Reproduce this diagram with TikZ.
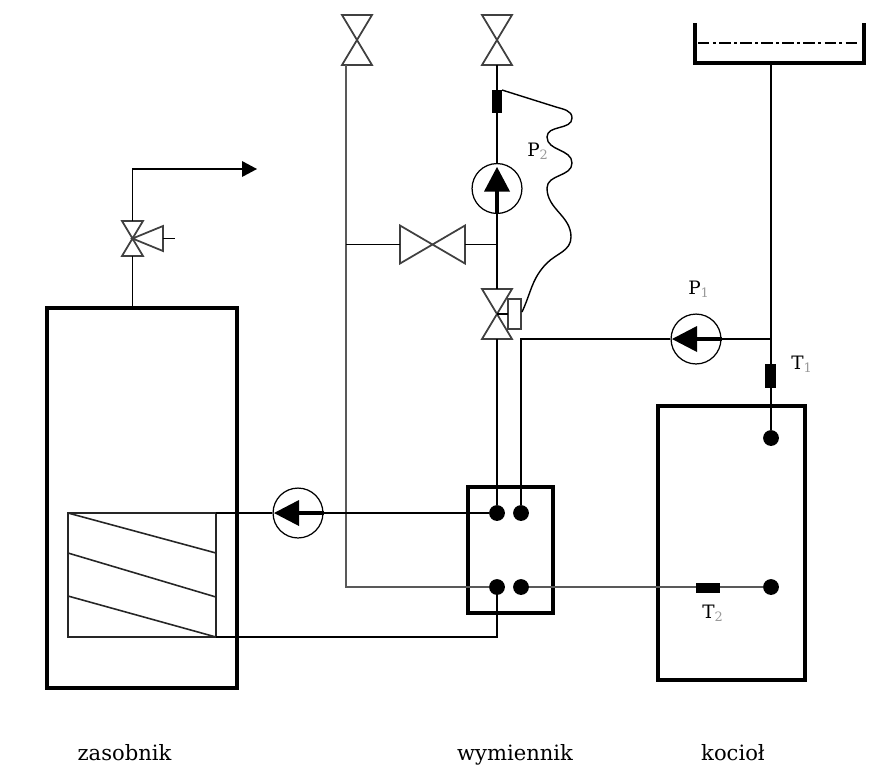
\documentclass[tikz,border=0pt]{standalone}
\usepackage{fontspec}
\setmainfont{DejaVu Serif}
\tikzset{
	pipe/.style={line width=1.1pt},
	thinpipe/.style={line width=0.8pt,black!65},
	coilline/.style={line width=0.9pt,black!85},
	valveline/.style={line width=1pt,black!75,line join=miter},
	wall/.style={line width=2.6pt},
	valvebox/.style={inner sep=0pt,outer sep=0pt,minimum width=#1},
	port/.style={circle,fill=black,inner sep=0pt,minimum size=9pt},
	pumpbody/.style={circle,draw,line width=0.7pt,inner sep=0pt,minimum size=28.4pt},
	sensor/.style={fill=black,inner sep=0pt,outer sep=0pt},
	tag/.style={font=\fontsize{10.5pt}{12pt}\selectfont},
	caption/.style={font=\fontsize{12pt}{14pt}\selectfont,anchor=base}
}
\newcommand{\vvalve}[5]{
	\node[valvebox=#4*0.02cm,minimum height=#5*0.02cm] (#1) at (#2,#3) {};
	\draw [valveline] (#1.north west)-- (#1.north east)-- (#1.south west)-- (#1.south east)-- cycle;
}
\begin{document}
\begin{tikzpicture}[x=0.02cm,y=-0.02cm,line cap=butt,line join=miter]
	\useasboundingbox (0,0) rectangle (884,769);
	% zasobnik
	\node[draw,wall,inner sep=0pt,outer sep=0pt,minimum width=190*0.02cm,minimum height=380*0.02cm] (store) at (142,498) {};
	\node[draw,coilline,inner sep=0pt,outer sep=0pt,minimum width=148*0.02cm,minimum height=124*0.02cm] (coil) at (142,575) {};
	\draw [coilline] (coil.north west)-- (coil.east |- 0,553);
	\draw [coilline] (coil.west |- 0,553)-- (coil.east |- 0,597);
	\draw [coilline] (coil.west |- 0,596)-- (coil.south east);
	% zawor bezpieczenstwa
	\vvalve{safety}{132.5}{238.5}{21}{35}
	\coordinate (safetyR) at (163,238.5);
	\coordinate (outlet) at (257,169);
	\draw [pipe] (store.north -| safety)-- (safety.south);
	\draw [pipe] (safety.north)-- (132.5,169)-- (242,169);
	\fill (242,161)-- (outlet)-- (242,177)-- cycle;
	\draw [valveline] (safety.center)-- (163,226)-- (163,251)-- cycle;
	\draw [pipe] (safetyR)-- (175,238.5);
	% wymiennik
	\node[draw,wall,inner sep=0pt,outer sep=0pt,minimum width=85*0.02cm,minimum height=126*0.02cm] (hex) at (510.5,550) {};
	\node[port] (hexA) at (497,513) {};
	\node[port] (hexB) at (521,513) {};
	\node[port] (hexC) at (497,587) {};
	\node[port] (hexD) at (521,587) {};
	% kociol
	\node[draw,wall,inner sep=0pt,outer sep=0pt,minimum width=147*0.02cm,minimum height=274*0.02cm] (boiler) at (731.5,543) {};
	\node[port] (boilerA) at (771,438) {};
	\node[port] (boilerB) at (771,587) {};
	% naczynie
	\coordinate (tankL) at (695,23);
	\coordinate (tankR) at (864,23);
	\coordinate (tankB) at (771,63);
	\draw [wall] (tankL)-- (695,63)-- (864,63)-- (tankR);
	\draw [line width=0.7pt,dash pattern=on 6.5pt off 2pt on 1.5pt off 2pt] (698,43)-- (859,43);
	% zawory
	\vvalve{valveA}{357}{40}{30}{50}
	\vvalve{valveB}{497}{40}{30}{50}
	\vvalve{valveC}{497}{314}{30}{50}
	\node[valvebox=65*0.02cm,minimum height=38*0.02cm] (valveD) at (432.5,244.5) {};
	\draw [valveline] (valveD.north west)-- (valveD.south east)-- (valveD.north east)-- (valveD.south west)-- cycle;
	\node[draw,valveline,inner sep=0pt,outer sep=0pt,minimum width=13*0.02cm,minimum height=30*0.02cm] (actuator) at (514.5,314) {};
	% pompy
	\node[pumpbody] (pumpA) at (497,188.5) {};
	\node[pumpbody] (pumpB) at (696,339) {};
	\node[pumpbody] (pumpC) at (298,513) {};
	% rurociagi
	\draw [pipe] (valveB.south)-- (pumpA);
	\draw [pipe] (pumpA)-- (valveC.north);
	\draw [pipe] (valveC.south)-- (hexA);
	\draw [pipe] (valveC.center |- actuator.west)-- (actuator.west);
	\draw [pipe] (hexB)-- (hexB |- pumpB)-- (pumpB.west);
	\draw [pipe] (pumpB.east)-- (pumpB -| tankB);
	\draw [pipe] (tankB)-- (boilerA);
	\draw [thinpipe] (346,65)-- (346,587)-- (hexC);
	\draw [thinpipe] (hexD)-- (boilerB);
	\draw [pipe] (valveD.west -| 346,0)-- (valveD.west);
	\draw [pipe] (valveD.east)-- (valveD.east -| hexA);
	\draw [pipe] (hexA)-- (pumpC.east);
	\draw [pipe] (pumpC.west)-- (coil.north east);
	\draw [pipe] (hexC)-- (497,637)-- (coil.south east);
	% strzalki pomp
	\fill (484,191.5)-- (497,167)-- (510,191.5)-- cycle;
	\fill (697,326)-- (672,339)-- (697,352)-- cycle;
	\fill (299,500)-- (274,513)-- (299,526)-- cycle;
	\draw [line width=2.6pt] (pumpA.center)-- (pumpA.south);
	\draw [line width=2.6pt] (pumpB.center)-- (pumpB.east);
	\draw [line width=2.6pt] (pumpC.center)-- (pumpC.east);
	% czujniki
	\node[sensor,minimum width=10*0.02cm,minimum height=23*0.02cm] (sensorP) at (497,101.5) {};
	\node[sensor,minimum width=11*0.02cm,minimum height=24*0.02cm] (sensorA) at (770.5,376) {};
	\node[sensor,minimum width=24*0.02cm,minimum height=10*0.02cm] (sensorB) at (708,587.5) {};
	% linia impulsowa
	\draw [line width=0.8pt] (sensorP.north east)-- (556,107) to[out=-17,in=90] (572,118) to[out=-90,in=90] (547,137) to[out=-90,in=90] (572,163) to[out=-90,in=90] (547,188) to[out=-90,in=90] (571,237) to[out=-90,in=45] (547,263) to[out=-135,in=65] (522,312);
	% opisy
	\node[tag] (labelP1) at (699,289) {P\textsubscript{\color{black!40}1}};
	\node[tag] (labelP2) at (538,151) {P\textsubscript{\color{black!40}2}};
	\node[tag] (labelT1) at (802,364) {T\textsubscript{\color{black!40}1}};
	\node[tag] (labelT2) at (713,613) {T\textsubscript{\color{black!40}2}};
	\node[caption] (labelStore) at (124.5,760) {zasobnik};
	\node[caption] (labelHex) at (515,760) {wymiennik};
	\node[caption] (labelBoiler) at (733,760) {kocioł};
\end{tikzpicture}
\end{document}
